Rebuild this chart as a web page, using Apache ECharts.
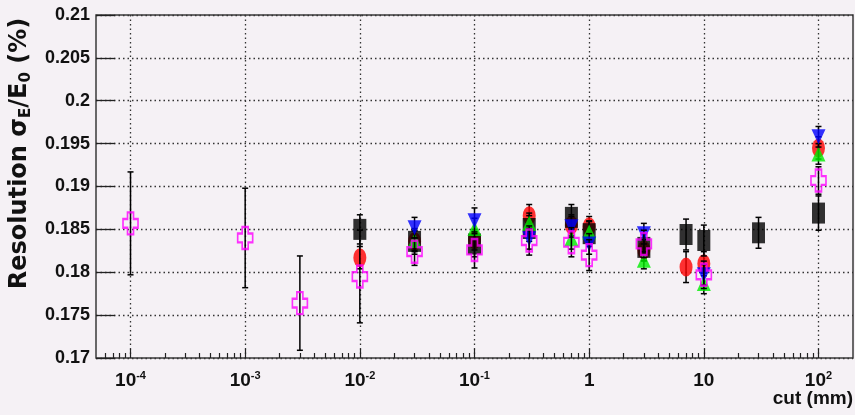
<!DOCTYPE html>
<html>
<head>
<meta charset="utf-8">
<title>Energy resolution vs cut</title>
<script src="https://cdn.jsdelivr.net/npm/echarts@6/dist/echarts.min.js"></script>
<style>
  html, body { margin: 0; padding: 0; background: #f5f1f5; }
  #chart { width: 855px; height: 415px; }
</style>
</head>
<body>
<div id="chart"></div>
<script>
// Axis tick positions (cut, mm)
const cutMajorTicks = [1e-4, 1e-3, 1e-2, 1e-1, 1, 10, 100];
const resolutionTicks = [0.17, 0.175, 0.18, 0.185, 0.19, 0.195, 0.2, 0.205, 0.21];

// Series drawn in this order (later ones on top)
const redCuts = [0.01, 0.03, 0.1, 0.3, 0.7, 1, 3, 7, 10, 100];
const redRes  = [0.1817, 0.1836, 0.1838, 0.1866, 0.1855, 0.1853, 0.1826, 0.1806, 0.1810, 0.1945];
const redErr  = [0.0013, 0.0012, 0.0012, 0.0013, 0.0012, 0.0012, 0.0012, 0.0018, 0.0014, 0.0013];

const blackCuts = [0.01, 0.03, 0.1, 0.3, 0.7, 1, 3, 7, 10, 30, 100];
const blackRes  = [0.1850, 0.1836, 0.1833, 0.1851, 0.1864, 0.1845, 0.1829, 0.1844, 0.1837, 0.1846, 0.1869];
const blackErr  = [0.0017, 0.0015, 0.0015, 0.0015, 0.0015, 0.0015, 0.0016, 0.0018, 0.0018, 0.0018, 0.0020];

const greenCuts = [0.03, 0.1, 0.3, 0.7, 1, 3, 10, 100];
const greenRes  = [0.1837, 0.1851, 0.1857, 0.1839, 0.1847, 0.1814, 0.1787, 0.1938];
const greenErr  = [0.0012, 0.0012, 0.0012, 0.0012, 0.0012, 0.0010, 0.0012, 0.0012];

const blueCuts = [0.03, 0.1, 0.3, 0.7, 1, 3, 10, 100];
const blueRes  = [0.1852, 0.1860, 0.1839, 0.1853, 0.1833, 0.1845, 0.1797, 0.1958];
const blueErr  = [0.0012, 0.0015, 0.0012, 0.0012, 0.0012, 0.0012, 0.0012, 0.0012];

const magentaCuts = [1e-4, 1e-3, 3e-3, 0.01, 0.03, 0.1, 0.3, 0.7, 1, 3, 10, 100];
const magentaRes  = [0.1857, 0.1840, 0.1764, 0.1795, 0.1824, 0.1826, 0.1837, 0.1835, 0.1820, 0.1833, 0.1797, 0.1907];
const magentaErr  = [0.0060, 0.0058, 0.0055, 0.0054, 0.0016, 0.0021, 0.0017, 0.0017, 0.0018, 0.0016, 0.0016, 0.0016];

// Minor ticks 2..9 in every decade of the visible range
const xMin = 5e-5, xMax = 200;
const cutMinorTicks = [];
for (let e = -5; e <= 2; e++) {
  for (let m = 2; m <= 9; m++) {
    const v = m * Math.pow(10, e);
    if (v > xMin && v < xMax) cutMinorTicks.push(v);
  }
}

const labelFont = "'Liberation Sans', Arial, sans-serif";
const titleFont = "'DejaVu Sans', sans-serif";

const pairs = (xs, ys) => xs.map((x, i) => [x, ys[i]]);

function errorBars(name, xs, ys, errs, z) {
  return {
    type: 'custom',
    name: name + ' errors',
    z: z,
    silent: true,
    data: xs.map((x, i) => [x, ys[i] - errs[i], ys[i] + errs[i]]),
    encode: { x: 0, y: [1, 2] },
    renderItem(params, api) {
      const x = api.value(0);
      const lo = api.coord([x, api.value(1)]);
      const hi = api.coord([x, api.value(2)]);
      const half = 3;
      const st = { stroke: '#000', lineWidth: 1.5 };
      return {
        type: 'group',
        children: [
          { type: 'line', shape: { x1: lo[0], y1: lo[1], x2: hi[0], y2: hi[1] }, style: st },
          { type: 'line', shape: { x1: lo[0] - half, y1: lo[1], x2: lo[0] + half, y2: lo[1] }, style: st },
          { type: 'line', shape: { x1: hi[0] - half, y1: hi[1], x2: hi[0] + half, y2: hi[1] }, style: st }
        ]
      };
    }
  };
}

function markers(name, xs, ys, z, symbol, size, itemStyle) {
  return {
    type: 'scatter',
    name: name,
    z: z,
    data: pairs(xs, ys),
    symbol: symbol,
    symbolSize: size,
    itemStyle: itemStyle,
    emphasis: { disabled: true }
  };
}

const openCross = 'path://M3,0 H7 V3 H10 V7 H7 V10 H3 V7 H0 V3 H3 Z';
const downTriangle = 'path://M0,0 L10,0 L5,10 Z';
const upTriangle = 'path://M5,0 L10,10 L0,10 Z';

function cutLabel(v) {
  const p = Math.round(Math.log10(v));
  if (p === 0) return '{b|1}';
  if (p === 1) return '{b|10}';
  return '{b|10}{s|' + p + '}';
}

const chart = echarts.init(document.getElementById('chart'), null, { renderer: 'canvas' });

chart.setOption({
  animation: false,
  backgroundColor: '#f5f1f5',
  grid: {
    left: 96, right: 2, top: 15, bottom: 57,
    containLabel: false,
    outerBoundsMode: 'none',
    show: true,
    borderColor: '#3a3a3a',
    borderWidth: 1.5,
    backgroundColor: 'transparent'
  },
  xAxis: [
    {
      type: 'log',
      min: xMin,
      max: xMax,
      logBase: 10,
      axisLine: { show: false },
      axisTick: {
        show: true, inside: true, length: 9,
        customValues: cutMajorTicks,
        lineStyle: { color: '#222', width: 1.2 }
      },
      axisLabel: {
        show: true,
        customValues: cutMajorTicks,
        margin: 12,
        formatter: cutLabel,
        rich: {
          b: { fontFamily: labelFont, fontWeight: 'bold', fontSize: 19, color: '#111', lineHeight: 22 },
          s: { fontFamily: labelFont, fontWeight: 'bold', fontSize: 11, color: '#111', lineHeight: 12, verticalAlign: 'top' }
        }
      },
      splitLine: {
        show: true,
        lineStyle: { color: '#333', width: 1.3, type: [1.5, 3] }
      },
      minorTick: { show: false },
      minorSplitLine: { show: false }
    },
    {
      type: 'log',
      min: xMin,
      max: xMax,
      logBase: 10,
      position: 'bottom',
      axisLine: { show: false },
      axisTick: {
        show: true, inside: true, length: 5,
        customValues: cutMinorTicks,
        lineStyle: { color: '#222', width: 1.2 }
      },
      axisLabel: { show: false },
      splitLine: { show: false }
    }
  ],
  yAxis: {
    type: 'value',
    min: 0.17,
    max: 0.21,
    interval: 0.005,
    name: '{t|Resolution σ}{s|E}{t|/E}{s|0}{t| (%)}',
    nameLocation: 'middle',
    nameRotate: 90,
    nameGap: 62,
    nameTextStyle: {
      padding: [0, 0, 0, 66],
      rich: {
        t: { fontFamily: titleFont, fontWeight: 'bold', fontSize: 24, color: '#111', lineHeight: 28 },
        s: { fontFamily: titleFont, fontWeight: 'bold', fontSize: 15, color: '#111', lineHeight: 15, verticalAlign: 'bottom' }
      }
    },
    axisLine: { show: false },
    axisTick: { show: true, inside: true, length: 19, lineStyle: { color: '#222', width: 1.3 } },
    axisLabel: {
      margin: 6,
      fontFamily: labelFont,
      fontWeight: 'bold',
      fontSize: 18,
      color: '#111',
      customValues: resolutionTicks,
      formatter: v => String(+v.toFixed(3))
    },
    splitLine: {
      show: true,
      lineStyle: { color: '#333', width: 1.3, type: [1.5, 3] }
    }
  },
  graphic: [
    {
      type: 'text',
      right: 2,
      top: 389,
      style: {
        text: 'cut (mm)',
        fontFamily: labelFont,
        fontWeight: 'bold',
        fontSize: 19,
        fill: '#111'
      }
    }
  ],
  series: [
    errorBars('red', redCuts, redRes, redErr, 2),
    markers('red', redCuts, redRes, 3, 'circle', [13, 19], { color: '#ff0000' }),

    errorBars('black', blackCuts, blackRes, blackErr, 4),
    markers('black', blackCuts, blackRes, 5, 'rect', [13, 21], { color: '#000000' }),

    errorBars('green', greenCuts, greenRes, greenErr, 6),
    markers('green', greenCuts, greenRes, 7, upTriangle, [14, 15], { color: '#00ee00' }),

    errorBars('blue', blueCuts, blueRes, blueErr, 8),
    markers('blue', blueCuts, blueRes, 9, downTriangle, [14, 15], { color: '#0000ff' }),

    errorBars('magenta', magentaCuts, magentaRes, magentaErr, 10),
    markers('magenta', magentaCuts, magentaRes, 11, openCross, [15, 22],
      { color: 'rgba(0,0,0,0)', borderColor: '#ff00ff', borderWidth: 2 })
  ]
});
</script>
</body>
</html>
